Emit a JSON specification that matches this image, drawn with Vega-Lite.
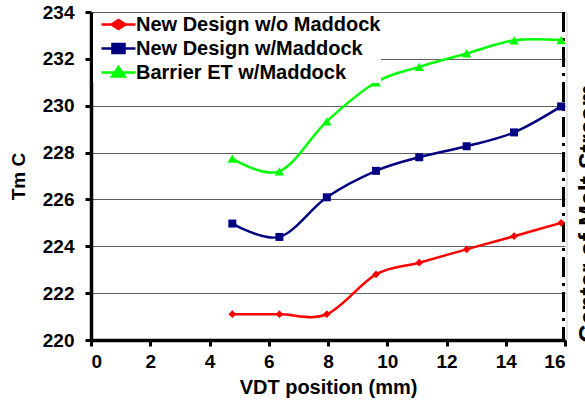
{
  "$schema": "https://vega.github.io/schema/vega-lite/v6.json",
  "width": 474,
  "height": 328,
  "autosize": {"type": "none"},
  "padding": {"left": 91, "top": 12, "right": 20, "bottom": 64},
  "background": "white",
  "config": {
    "view": {"stroke": null},
    "font": "Liberation Sans",
    "axis": {
      "labelFont": "Liberation Sans",
      "labelFontWeight": "bold",
      "labelColor": "black",
      "titleFont": "Liberation Sans",
      "titleFontWeight": "bold",
      "titleColor": "black",
      "domainColor": "black",
      "domainWidth": 3.5,
      "tickColor": "black",
      "tickWidth": 3,
      "tickSize": 6
    },
    "legend": {
      "labelFont": "Liberation Sans",
      "labelFontWeight": "bold",
      "labelColor": "black",
      "labelFontSize": 20
    }
  },
  "datasets": {
    "readings": [
      {"series": "New Design w/o Maddock", "vdt": 4.77, "tm": 221.1},
      {"series": "New Design w/o Maddock", "vdt": 6.36, "tm": 221.1},
      {"series": "New Design w/o Maddock", "vdt": 7.96, "tm": 221.1},
      {"series": "New Design w/o Maddock", "vdt": 9.62, "tm": 222.8},
      {"series": "New Design w/o Maddock", "vdt": 11.08, "tm": 223.3},
      {"series": "New Design w/o Maddock", "vdt": 12.68, "tm": 223.87},
      {"series": "New Design w/o Maddock", "vdt": 14.28, "tm": 224.43},
      {"series": "New Design w/o Maddock", "vdt": 15.87, "tm": 225.0},
      {"series": "New Design w/Maddock", "vdt": 4.77, "tm": 224.97},
      {"series": "New Design w/Maddock", "vdt": 6.36, "tm": 224.4},
      {"series": "New Design w/Maddock", "vdt": 7.96, "tm": 226.09},
      {"series": "New Design w/Maddock", "vdt": 9.62, "tm": 227.22},
      {"series": "New Design w/Maddock", "vdt": 11.08, "tm": 227.8},
      {"series": "New Design w/Maddock", "vdt": 12.68, "tm": 228.27},
      {"series": "New Design w/Maddock", "vdt": 14.28, "tm": 228.86},
      {"series": "New Design w/Maddock", "vdt": 15.87, "tm": 229.97},
      {"series": "Barrier ET w/Maddock", "vdt": 4.77, "tm": 227.74},
      {"series": "Barrier ET w/Maddock", "vdt": 6.36, "tm": 227.2},
      {"series": "Barrier ET w/Maddock", "vdt": 7.96, "tm": 229.33},
      {"series": "Barrier ET w/Maddock", "vdt": 9.62, "tm": 231.0},
      {"series": "Barrier ET w/Maddock", "vdt": 11.08, "tm": 231.66},
      {"series": "Barrier ET w/Maddock", "vdt": 12.68, "tm": 232.23},
      {"series": "Barrier ET w/Maddock", "vdt": 14.28, "tm": 232.79},
      {"series": "Barrier ET w/Maddock", "vdt": 15.87, "tm": 232.8}
    ],
    "notes": [
      {"label": "Center of Melt Stream", "vdt": 16, "tm": 225.4}
    ]
  },
  "data": {"name": "readings"},
  "encoding": {
    "x": {
      "field": "vdt",
      "type": "quantitative",
      "scale": {"domain": [0, 16], "nice": false, "zero": false},
      "axis": {
        "values": [0, 2, 4, 6, 8, 10, 12, 14, 16],
        "grid": false,
        "labelFontSize": 19,
        "labelPadding": 6,
        "title": "VDT position (mm)",
        "titleFontSize": 20,
        "titlePadding": 6
      }
    },
    "y": {
      "field": "tm",
      "type": "quantitative",
      "scale": {"domain": [220, 234], "nice": false, "zero": false},
      "axis": {
        "values": [220, 222, 224, 226, 228, 230, 232, 234],
        "grid": true,
        "gridColor": "#606060",
        "gridWidth": 1,
        "labelFontSize": 19,
        "labelPadding": 11,
        "title": "Tm C",
        "titleFontSize": 19,
        "titlePadding": 14
      }
    }
  },
  "layer": [
    {
      "data": {"name": "notes"},
      "mark": {"type": "rule", "color": "#c8c8c8", "strokeWidth": 1, "xOffset": 2},
      "encoding": {"y": null}
    },
    {
      "data": {"name": "notes"},
      "mark": {"type": "rule", "color": "black", "strokeWidth": 3, "strokeDash": [20, 6, 3, 6], "xOffset": -1.5},
      "encoding": {"y": null}
    },
    {
      "data": {"name": "notes"},
      "mark": {
        "type": "text",
        "angle": 270,
        "align": "center",
        "baseline": "top",
        "font": "Liberation Sans",
        "fontWeight": "bold",
        "fontSize": 25,
        "color": "black",
        "dy": 12
      },
      "encoding": {"text": {"field": "label"}}
    },
    {
      "mark": {"type": "line", "interpolate": "cardinal", "strokeWidth": 2.5},
      "encoding": {
        "color": {
          "field": "series",
          "type": "nominal",
          "title": null,
          "scale": {
            "domain": ["New Design w/o Maddock", "New Design w/Maddock", "Barrier ET w/Maddock"],
            "range": ["#ff0000", "#000080", "#00ff00"]
          },
          "legend": {
            "orient": "none",
            "legendX": 2,
            "legendY": 2,
            "padding": 0,
            "fillColor": "white",
            "labelLimit": 0,
            "symbolSize": 324,
            "symbolStrokeWidth": 2.5,
            "symbolOffset": 15,
            "labelOffset": 7,
            "rowPadding": 3,
            "encode": {
              "symbols": {
                "update": {
                  "shape": {"signal": "datum.value === 'New Design w/o Maddock' ? 'M-1.89,0H1.89M-0.78,0L0,-0.5L0.78,0L0,0.5Z' : datum.value === 'New Design w/Maddock' ? 'M-1.89,0H1.89M-0.67,-0.5H0.67V0.5H-0.67Z' : 'M-1.89,0H1.89M0,-0.61L0.72,0.44H-0.72Z'"},
                  "fill": {"scale": "color", "field": "value"},
                  "stroke": {"scale": "color", "field": "value"},
                  "strokeWidth": {"value": 2.5}
                }
              }
            }
          }
        }
      }
    },
    {
      "transform": [{"filter": "datum.series === 'New Design w/o Maddock'"}],
      "mark": {"type": "point", "shape": "diamond", "filled": true, "size": 60, "color": "#ff0000", "opacity": 1}
    },
    {
      "transform": [{"filter": "datum.series === 'New Design w/Maddock'"}],
      "mark": {"type": "point", "shape": "square", "filled": true, "size": 64, "color": "#000080", "opacity": 1}
    },
    {
      "transform": [{"filter": "datum.series === 'Barrier ET w/Maddock'"}],
      "mark": {"type": "point", "shape": "triangle-up", "filled": true, "size": 90, "color": "#00ff00", "opacity": 1}
    }
  ]
}
